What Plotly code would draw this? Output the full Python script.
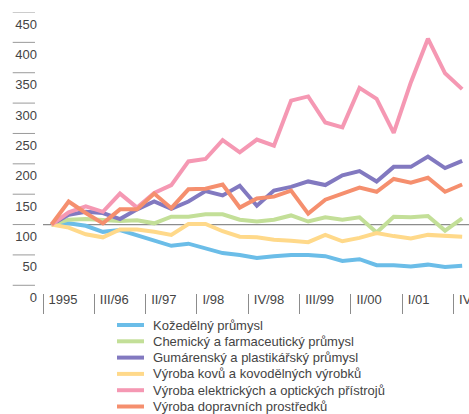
import plotly.graph_objects as go

periods = ["1995", "I/96", "II/96", "III/96", "IV/96", "I/97", "II/97", "III/97", "IV/97",
           "I/98", "II/98", "III/98", "IV/98", "I/99", "II/99", "III/99", "IV/99",
           "I/00", "II/00", "III/00", "IV/00", "I/01", "II/01", "III/01", "IV/01"]

kozedelny = [100, 102, 98, 88, 91, 82, 74, 65, 68.5, 61, 53, 50, 45, 48, 50, 50, 48,
             40, 43, 33, 33, 31, 34, 30, 32]
chemicky = [100, 108, 109, 108, 106, 107, 102, 113, 113, 117, 117, 108, 105, 108, 115, 105, 112,
            108, 112, 87, 113, 112, 114, 90, 110]
gumarensky = [100, 116, 121, 119, 109, 125, 138, 126, 138, 155, 148, 164, 131, 156, 162, 171, 165,
              181, 188, 171, 195, 195, 212, 193, 205]
kovy = [100, 95, 84, 79, 92, 92, 88, 83, 101, 101, 89, 80, 79, 75, 73.5, 71, 83,
        72.5, 78, 86, 81, 77, 83, 82, 80]
elektricke = [100, 120, 130, 121, 151, 128, 152, 165, 204, 208, 239, 219, 240, 230, 304, 311, 268,
              260, 325, 307, 251, 334, 406, 349, 323]
dopravni = [100, 138, 119, 102, 125, 125, 151, 127, 158, 159, 166, 128, 143, 146, 156, 118, 141,
            151, 161, 154, 175, 169, 177, 154, 166]

series_names = ["Kožedělný průmysl", "Chemický a farmaceutický průmysl",
                "Gumárenský a plastikářský průmysl", "Výroba kovů a kovodělných výrobků",
                "Výroba elektrických a optických přístrojů", "Výroba dopravních prostředků"]
series_values = [kozedelny, chemicky, gumarensky, kovy, elektricke, dopravni]
colors = ["#6bbde8", "#c3df98", "#8279c0", "#ffd98a", "#f598b3", "#f58f6e"]

x_tick_labels = ["1995", "III/96", "II/97", "I/98", "IV/98", "III/99", "II/00", "I/01", "IV/01"]
y_ticks = [0, 50, 100, 150, 200, 250, 300, 350, 400, 450]
base_value = 100

FONT = "Liberation Sans, Arial, sans-serif"
FS = 13
TXT = "#444444"

xs = list(range(len(periods)))
fig = go.Figure()
for name, vals, col in zip(series_names, series_values, colors):
    fig.add_trace(go.Scatter(x=xs, y=vals, mode="lines", name=name,
                             line=dict(color=col, width=4), showlegend=False,
                             hovertext=periods))

# baseline 100 reference line
fig.add_shape(type="line", xref="paper", x0=0, x1=1, yref="y", y0=base_value, y1=base_value,
              line=dict(color="#8c8c8c", width=1.2), layer="below")

# short lines above y tick labels
for v in y_ticks:
    fig.add_shape(type="line", xref="paper", x0=-0.0711, x1=-0.0188, yref="y", y0=v, y1=v,
                  line=dict(color="#9a9a9a", width=1))

# manual legend
plot_top, plot_bottom = 12, 293
plot_h = plot_bottom - plot_top
for k, (name, col) in enumerate(zip(series_names, colors)):
    ypx = 325 + 16.3 * k
    yp = (plot_bottom - ypx) / plot_h
    fig.add_shape(type="line", xref="paper", yref="paper", x0=(117 - 43) / 426, x1=(144 - 43) / 426,
                  y0=yp, y1=yp, line=dict(color=col, width=4))
    fig.add_annotation(xref="paper", yref="paper", x=(151 - 43) / 426, y=yp, text=name,
                       showarrow=False, xanchor="left", yanchor="middle",
                       font=dict(family=FONT, size=FS, color=TXT))

fig.update_layout(
    width=469, height=414,
    margin=dict(l=43, r=0, t=12, b=121, pad=0),
    paper_bgcolor="white", plot_bgcolor="white",
    font=dict(family=FONT, size=FS, color=TXT),
    showlegend=False,
)
fig.update_xaxes(
    range=[-0.5, 24.4], showgrid=False, zeroline=False, showline=False,
    tickmode="array", tickvals=[i - 0.5 for i in range(0, 25, 3)], ticktext=x_tick_labels,
    ticks="outside", ticklen=20, tickwidth=1, tickcolor="#8c8c8c",
    ticklabelposition="outside right", ticklabelshift=5, ticklabelstandoff=-6,
    ticklabeloverflow="allow",
    automargin=False, tickfont=dict(family=FONT, size=FS, color=TXT),
)
fig.update_yaxes(
    range=[-12.7, 450], showgrid=False, zeroline=False, showline=False,
    tickmode="array", tickvals=y_ticks, ticks="", ticklabelshift=12, ticklabelstandoff=5,
    ticklabeloverflow="allow",
    automargin=False, tickfont=dict(family=FONT, size=FS, color=TXT),
)

fig.write_html("out.html", config={"displayModeBar": False},
               post_script="document.body.style.margin='0';")
